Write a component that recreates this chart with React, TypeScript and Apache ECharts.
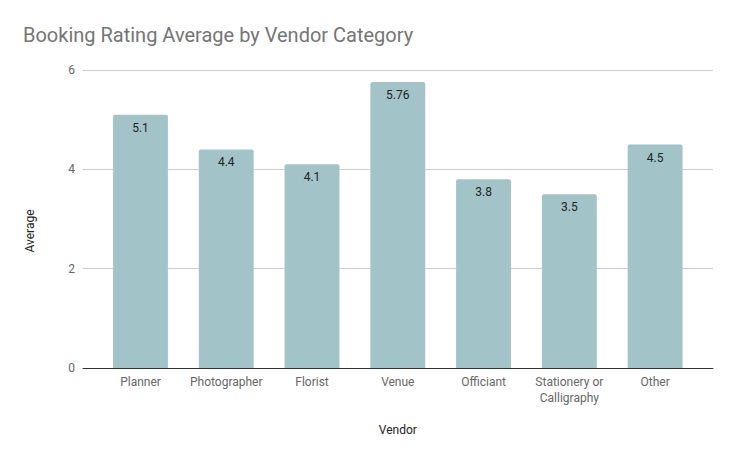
import React, { useEffect, useRef } from "react";
import * as echarts from "echarts";

const categories = ["Planner", "Photographer", "Florist", "Venue", "Officiant", "Stationery or\nCalligraphy", "Other"];
const averages = [5.1, 4.4, 4.1, 5.76, 3.8, 3.5, 4.5];
const yTicks = { min: 0, max: 6, interval: 2 };

export default function App() {
  const ref = useRef<HTMLDivElement>(null);
  useEffect(() => {
    const chart = echarts.init(ref.current!, null, { renderer: "svg" });
    const font = "Roboto";
    chart.setOption({
      animation: false,
      textStyle: { fontFamily: font },
      title: {
        text: "Booking Rating Average by Vendor Category",
        left: 10,
        top: 12,
        textStyle: { fontFamily: font, fontSize: 20, fontWeight: "normal", color: "#757575" },
      },
      graphic: [
        {
          type: "text",
          x: 22,
          y: 223,
          rotation: Math.PI / 2,
          style: {
            text: "Average",
            fontFamily: font,
            fontSize: 12,
            fill: "#222",
            align: "center",
            verticalAlign: "middle",
          },
        },
      ],
      grid: [
        { left: 89.6, right: 30, top: 62, bottom: 84 },
        { left: 75, right: 15, top: 62, bottom: 84 },
      ],
      xAxis: [
        {
          type: "category",
          gridIndex: 0,
          data: categories,
          axisLine: { show: false },
          axisTick: { show: false },
          axisLabel: { color: "#666", fontSize: 12, margin: 6, lineHeight: 16, interval: 0 },
          name: "Vendor",
          nameLocation: "middle",
          nameGap: 56,
          nameTextStyle: { color: "#222", fontSize: 12 },
        },
        {
          type: "value",
          gridIndex: 1,
          min: 0,
          max: 1,
          axisLine: { show: true, lineStyle: { color: "#333", width: 1 } },
          axisTick: { show: false },
          axisLabel: { show: false },
          splitLine: { show: false },
        },
      ],
      yAxis: [
        {
          type: "value",
          gridIndex: 0,
          min: yTicks.min,
          max: yTicks.max,
          interval: yTicks.interval,
          axisLine: { show: false },
          axisTick: { show: false },
          axisLabel: { show: false },
          splitLine: { show: false },
        },
        {
          type: "value",
          gridIndex: 1,
          min: yTicks.min,
          max: yTicks.max,
          interval: yTicks.interval,
          axisLine: { show: false },
          axisTick: { show: false },
          axisLabel: { color: "#666", fontSize: 12, margin: 8 },
          splitLine: { show: true, lineStyle: { color: "#ccc", width: 1 } },
        },
      ],
      series: [
        {
          type: "bar",
          xAxisIndex: 0,
          yAxisIndex: 0,
          data: averages,
          barWidth: "64%",
          itemStyle: { color: "#a2c4c9", borderRadius: [2, 2, 0, 0] },
          label: {
            show: true,
            position: "insideTop",
            distance: 7,
            color: "#222",
            fontSize: 12,
            formatter: (p: any) => String(p.value),
          },
          z: 3,
        },
      ],
    });
    return () => chart.dispose();
  }, []);
  return <div ref={ref} style={{ width: 720, height: 444 }} />;
}
